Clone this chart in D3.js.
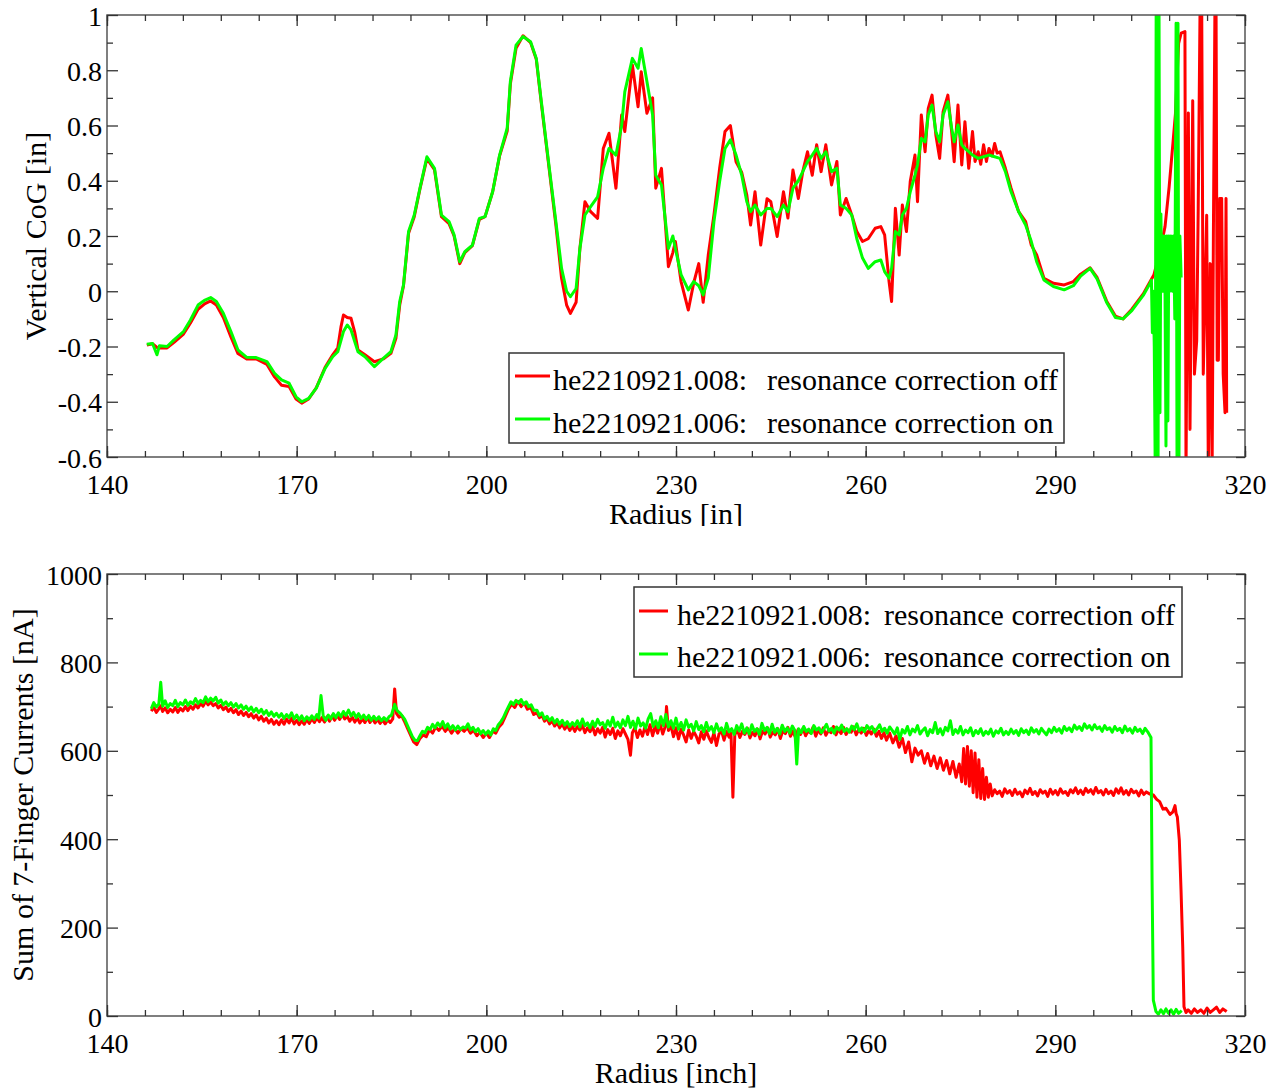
<!DOCTYPE html>
<html><head><meta charset="utf-8">
<script src="https://cdn.jsdelivr.net/npm/d3@7"></script>
<style>
html,body{margin:0;padding:0;background:#fff;}
svg text{font-family:"Liberation Serif","Times New Roman",serif !important;fill:#000;}
</style></head>
<body>
<svg id="c" width="1279" height="1088"></svg>
<script>
// ---------------- DATA ----------------
const xTicks = [140,170,200,230,260,290,320];
const cogTicks = [-0.6,-0.4,-0.2,0,0.2,0.4,0.6,0.8,1];
const curTicks = [0,200,400,600,800,1000];
const seriesNames = ["he2210921.008:", "he2210921.006:"];
const seriesNotes = ["resonance correction off", "resonance correction on"];

// Vertical CoG [in] vs radius, correction off (red)
const cogOff = [
[146.3,-0.195],[147.2,-0.19],[148.0,-0.205],[149.5,-0.205],[150.6,-0.185],[152.1,-0.155],[153.2,-0.115],
[154.4,-0.065],[155.5,-0.045],[156.4,-0.035],[157.3,-0.05],[158.4,-0.095],[159.6,-0.165],[160.7,-0.225],
[162.1,-0.245],[163.6,-0.245],[165.3,-0.265],[166.5,-0.31],[167.6,-0.34],[168.8,-0.345],[169.9,-0.39],
[170.8,-0.405],[171.9,-0.39],[173.1,-0.35],[174.5,-0.275],[175.7,-0.23],[176.5,-0.205],[177.0,-0.13],
[177.4,-0.086],[178.0,-0.095],[178.6,-0.098],[179.2,-0.15],[179.7,-0.213],[180.8,-0.23],[182.3,-0.255],
[183.7,-0.245],[184.9,-0.225],[185.7,-0.17],[186.3,-0.05],[186.9,0.02],[187.7,0.21],[188.6,0.27],
[189.5,0.37],[190.6,0.48],[191.8,0.44],[192.9,0.27],[194.1,0.245],[194.9,0.2],[195.8,0.1],[196.6,0.14],
[197.8,0.165],[198.9,0.26],[199.8,0.27],[201.0,0.36],[202.1,0.49],[203.3,0.58],[203.8,0.75],[204.7,0.88],
[205.8,0.925],[207.0,0.9],[207.9,0.84],[208.7,0.68],[209.9,0.45],[211.0,0.24],[211.9,0.047],[212.7,-0.05],
[213.3,-0.08],[214.2,-0.04],[214.8,0.155],[215.6,0.324],[216.5,0.288],[217.6,0.264],[218.5,0.517],
[219.4,0.572],[220.5,0.373],[221.4,0.638],[221.9,0.578],[223.1,0.819],[224.0,0.668],[224.5,0.795],
[225.4,0.644],[226.3,0.7],[226.8,0.373],[227.7,0.445],[228.8,0.089],[229.5,0.14],[229.9,0.18],
[230.8,0.035],[231.95,-0.068],[232.8,0.03],[233.6,0.1],[234.3,-0.04],[235.1,0.131],[236.0,0.276],
[236.9,0.445],[237.75,0.578],[238.6,0.6],[239.5,0.469],[240.4,0.43],[241.2,0.348],[241.8,0.24],
[242.5,0.36],[243.4,0.167],[244.4,0.335],[245.0,0.324],[246.0,0.198],[247.0,0.36],[247.7,0.265],
[248.5,0.439],[249.35,0.336],[250.05,0.433],[250.8,0.505],[251.55,0.42],[252.25,0.53],[252.95,0.433],
[253.7,0.53],[254.6,0.385],[255.45,0.47],[256.0,0.276],[256.9,0.336],[257.8,0.276],[258.6,0.216],
[259.5,0.18],[260.4,0.19],[261.5,0.228],[262.4,0.234],[263.0,0.204],[263.7,0.035],[264.1,-0.037],
[264.7,0.3],[265.3,0.131],[265.8,0.312],[266.45,0.216],[267.05,0.397],[267.8,0.493],[268.2,0.324],
[268.8,0.638],[269.4,0.505],[269.9,0.662],[270.5,0.71],[271.1,0.566],[271.7,0.481],[272.25,0.65],
[273.0,0.71],[273.6,0.578],[274.0,0.469],[274.6,0.674],[275.2,0.457],[275.7,0.614],[276.3,0.445],
[276.9,0.578],[277.3,0.47],[277.8,0.505],[278.2,0.46],[278.65,0.53],[279.1,0.47],[279.5,0.517],
[280.0,0.49],[280.4,0.535],[280.8,0.5],[281.25,0.505],[282.1,0.445],[283.0,0.373],[284.2,0.288],
[285.3,0.252],[286.2,0.167],[287.05,0.131],[288.2,0.047],[289.7,0.029],[291.4,0.023],[292.85,0.035],
[294.0,0.062],[295.5,0.085],[296.6,0.05],[298.1,-0.035],[299.5,-0.09],[300.7,-0.1],[302.1,-0.065],
[303.9,-0.01],[305.0,0.035],[305.6,0.06],[306.5,0.14],[307.35,0.234],[308.0,0.378],[308.6,0.535],
[309.0,0.643],[309.5,0.897],[309.9,0.934],[310.5,0.94],[310.67,-0.65],[311.04,0.645],[311.3,-0.5],
[311.73,0.69],[312.0,-0.3],[312.36,-0.18],[312.6,0.3],[312.9,1.05],[313.15,1.05],[313.4,-0.3],
[313.68,-0.01],[313.94,0.275],[314.2,-0.65],[314.5,0.1],[314.8,-0.65],[315.0,0.2],[315.25,1.05],
[315.42,1.05],[315.6,-0.25],[315.79,-0.25],[316.0,0.336],[316.31,0.336],[316.55,-0.3],[316.84,-0.44],
[317.0,0.336],[317.1,-0.44]
];

// Vertical CoG [in] vs radius, correction on (green)
const cogOn = [
[146.3,-0.192],[147.2,-0.189],[147.9,-0.23],[148.3,-0.197],[149.5,-0.2],[150.6,-0.176],[152.1,-0.146],
[153.2,-0.104],[154.4,-0.05],[155.5,-0.032],[156.4,-0.023],[157.3,-0.037],[158.4,-0.08],[159.6,-0.146],
[160.7,-0.212],[162.1,-0.239],[163.6,-0.24],[165.3,-0.255],[166.5,-0.297],[167.6,-0.321],[168.8,-0.333],
[169.9,-0.382],[170.8,-0.4],[171.9,-0.388],[173.1,-0.351],[174.5,-0.279],[175.7,-0.237],[176.5,-0.219],
[177.4,-0.146],[178.0,-0.122],[178.6,-0.14],[179.7,-0.219],[180.8,-0.237],[182.3,-0.273],[183.7,-0.243],
[184.9,-0.219],[185.7,-0.158],[186.3,-0.037],[186.9,0.023],[187.7,0.216],[188.6,0.276],[189.5,0.373],
[190.6,0.487],[191.8,0.445],[192.9,0.276],[194.1,0.252],[194.9,0.204],[195.8,0.107],[196.6,0.143],
[197.8,0.167],[198.9,0.264],[199.8,0.27],[201.0,0.36],[202.1,0.493],[203.3,0.59],[203.8,0.759],
[204.7,0.891],[205.8,0.922],[207.0,0.903],[207.9,0.843],[208.7,0.686],[209.9,0.457],[211.0,0.252],
[211.9,0.083],[212.7,0.0],[213.3,-0.02],[214.2,0.01],[214.8,0.155],[215.6,0.276],[216.5,0.306],
[217.6,0.342],[218.5,0.445],[219.4,0.517],[220.5,0.493],[221.4,0.6],[221.9,0.722],[223.1,0.843],
[224.0,0.807],[224.5,0.879],[225.4,0.759],[226.3,0.638],[226.8,0.42],[227.7,0.385],[228.8,0.155],
[229.5,0.2],[229.9,0.155],[230.8,0.06],[231.95,0.005],[232.8,0.035],[233.6,0.02],[234.3,-0.013],
[235.1,0.047],[236.0,0.252],[236.9,0.397],[237.75,0.517],[238.6,0.548],[239.5,0.493],[240.4,0.42],
[241.2,0.324],[241.8,0.288],[242.5,0.312],[243.4,0.276],[244.4,0.3],[245.0,0.3],[246.0,0.27],
[247.0,0.312],[247.7,0.288],[248.5,0.373],[249.35,0.4],[250.05,0.433],[250.8,0.469],[251.55,0.493],
[252.25,0.517],[252.95,0.481],[253.7,0.505],[254.6,0.433],[255.45,0.445],[256.0,0.312],[256.9,0.3],
[257.8,0.276],[258.6,0.19],[259.5,0.12],[260.4,0.083],[261.5,0.107],[262.4,0.113],[263.0,0.071],
[263.7,0.047],[264.1,0.083],[264.7,0.216],[265.3,0.204],[265.8,0.276],[266.45,0.3],[267.05,0.36],
[267.8,0.42],[268.2,0.457],[268.8,0.553],[269.4,0.541],[269.9,0.638],[270.5,0.674],[271.1,0.578],
[271.7,0.541],[272.25,0.638],[273.0,0.686],[273.6,0.59],[274.0,0.541],[274.6,0.602],[275.2,0.53],
[275.7,0.517],[276.3,0.505],[276.9,0.493],[277.8,0.481],[278.65,0.487],[279.5,0.493],[280.4,0.487],
[281.25,0.481],[282.1,0.433],[283.0,0.36],[284.2,0.288],[285.3,0.24],[286.2,0.18],[287.05,0.107],
[288.2,0.041],[289.7,0.017],[291.4,0.005],[292.85,0.02],[294.0,0.055],[295.5,0.083],[296.6,0.045],
[298.1,-0.04],[299.5,-0.095],[300.7,-0.1],[302.1,-0.07],[303.9,-0.015],[305.0,0.03],[305.2,0.04],
[305.35,-0.15],[305.5,0.0],[305.65,-0.2],[305.8,-0.65],[305.95,1.05],[306.1,0.28],[306.25,-0.65],
[306.4,1.05],[306.55,-0.44],[306.7,0.28],[306.85,0.0],[307.0,0.2],[307.15,0.0],[307.3,0.2],
[307.5,-0.56],[307.65,0.2],[307.8,-0.47],[307.95,0.2],[308.1,0.0],[308.3,0.2],[308.5,0.0],
[308.7,0.2],[308.9,-0.1],[309.1,0.97],[309.25,-0.65],[309.4,0.97],[309.55,-0.65],[309.7,0.2],[309.9,0.05]
];

// Sum of 7-finger currents [nA], correction off (red)
const curOff = [
[147,690],[147.4,698],[147.8,687],[148.2,695],[148.5,702],[148.8,689],[149.2,697],[149.6,686],[150.0,694],
[150.4,688],[150.8,698],[151.2,687],[151.6,696],[152.0,690],[152.4,700],[152.8,691],[153.2,701],[153.6,694],
[154.0,704],[154.4,697],[154.8,707],[155.2,701],[155.6,712],[156.0,704],[156.4,710],[156.8,702],[157.2,707],
[157.6,697],[158.0,703],[158.4,693],[158.8,699],[159.2,689],[159.6,696],[160.0,686],[160.4,693],[160.8,682],
[161.2,690],[161.6,680],[162.0,687],[162.4,677],[162.8,684],[163.2,674],[163.6,681],[164.0,670],[164.4,678],
[164.8,667],[165.2,674],[165.6,663],[166.0,671],[166.4,660],[166.8,668],[167.2,659],[167.6,670],[168.0,660],
[168.4,672],[168.8,663],[169.2,674],[169.6,661],[170.0,669],[170.4,659],[170.8,668],[171.2,660],[171.6,671],
[172.0,662],[172.4,673],[172.8,664],[173.2,675],[173.6,666],[174.0,675],[174.4,665],[174.8,677],[175.2,667],
[175.6,679],[176.0,669],[176.4,680],[176.8,671],[177.2,682],[177.6,672],[178.0,678],[178.4,667],[178.8,676],
[179.2,665],[179.6,674],[180.0,663],[180.4,672],[180.8,664],[181.2,675],[181.6,664],[182.0,673],[182.4,663],
[182.8,671],[183.2,662],[183.6,670],[184.0,661],[184.4,670],[184.8,664],[185.2,672],[185.5,740],[185.8,684],
[186.2,676],[186.6,680],[187.0,668],[187.5,652],[188.0,636],[188.5,620],[189.0,614],[189.5,628],[190.0,636],
[190.5,632],[191.0,648],[191.5,640],[192.0,654],[192.5,646],[193.0,656],[193.5,644],[194.0,652],[194.5,640],
[195.0,650],[195.5,640],[196.0,650],[196.5,644],[197.0,652],[197.5,640],[198.0,646],[198.5,634],[199.0,642],
[199.5,630],[200.0,640],[200.5,630],[201.0,644],[201.5,640],[202.0,654],[202.5,662],[203.0,678],[203.5,694],
[204.0,706],[204.5,698],[205.0,712],[205.5,700],[206.0,708],[206.5,694],[207.0,698],[207.5,682],
[208,686],[208.4,675],[208.8,680],[209.2,667],[209.6,673],[210.0,661],[210.4,668],[210.8,656],[211.2,664],
[211.6,652],[212.0,661],[212.4,649],[212.8,658],[213.2,646],[213.6,656],[214.0,644],[214.4,655],[214.8,647],
[215.2,658],[215.6,641],[216.0,652],[216.4,643],[216.8,655],[217.2,636],[217.6,650],[218.0,640],[218.4,653],
[218.8,631],[219.2,648],[219.6,637],[220.0,651],[220.4,628],[220.8,645],[221.2,634],[221.6,650],[222.0,638],
[222.4,626],[222.8,590],[223.1,641],[223.5,652],[223.9,630],[224.3,647],[224.7,633],[225.1,655],[225.5,637],
[225.9,659],[226.3,634],[226.7,656],[227.1,640],[227.5,661],[227.9,638],[228.3,655],[228.5,700],[228.8,646],
[229.2,657],[229.6,632],[230.0,652],[230.4,627],[230.8,649],[231.2,636],[231.6,620],[232.0,647],[232.4,628],
[232.8,644],[233.2,633],[233.6,618],[234.0,643],[234.4,626],[234.8,645],[235.2,630],[235.6,619],[236.0,641],
[236.4,612],[236.8,638],[237.2,645],[237.6,624],[238.0,644],[238.4,631],[238.7,640],[239.0,495],
[239.3,636],[239.7,648],[240.1,630],[240.5,644],[240.9,637],[241.3,651],[241.7,629],[242.1,642],[242.5,634],
[242.9,649],[243.3,627],[243.7,645],[244.1,638],[244.5,652],[244.9,631],[245.3,643],[245.7,636],[246.1,650],
[246.5,628],[246.9,646],[247.3,639],[247.7,653],[248.1,633],[248.5,644],[248.9,630],[249.3,648],[249.7,637],
[250.1,651],[250.5,634],[250.9,645],[251.3,640],[251.7,654],[252.1,633],[252.5,647],[252.9,638],[253.3,652],
[253.7,635],[254.1,646],[254.5,641],[254.9,655],[255.3,636],[255.7,649],[256.1,639],[256.5,653],[256.9,637],
[257.3,647],[257.7,642],[258.1,654],[258.5,636],[258.9,648],[259.3,640],[259.7,651],[260.1,635],[260.5,646],
[260.9,638],[261.3,649],[261.7,633],[262.1,644],[262.5,628],[262.9,641],
[263.3,624],[263.8,640],[264.3,618],[264.8,634],[265.3,608],[265.8,628],[266.3,596],[266.8,620],[267.3,575],
[267.8,606],[268.3,590],[268.8,600],[269.3,572],[269.8,594],[270.3,566],[270.8,588],[271.3,560],[271.8,584],
[272.3,556],[272.8,578],[273.3,548],[273.8,576],[274.3,540],[274.8,570],[275.2,530],[275.5,605],[275.8,525],
[276.1,610],[276.4,520],[276.7,600],[277.0,505],[277.3,595],[277.6,495],[277.9,580],[278.2,492],[278.5,560],
[278.8,490],[279.1,540],[279.4,495],[279.7,525],
[280.0,498],[280.4,512],[280.8,503],[281.2,509],[281.6,497],[282.0,514],[282.4,504],[282.8,510],[283.2,499],
[283.6,513],[284.0,502],[284.4,507],[284.8,496],[285.2,511],[285.6,503],[286.0,515],[286.4,501],[286.8,508],
[287.2,498],[287.6,512],[288.0,504],[288.4,509],[288.8,497],[289.2,513],[289.6,502],[290.0,510],[290.4,500],
[290.8,514],[291.2,504],[291.6,508],[292.0,499],[292.4,512],[292.8,505],[293.2,516],[293.6,503],[294.0,511],
[294.4,501],[294.8,515],[295.2,506],[295.6,512],[296.0,502],[296.4,517],[296.8,505],[297.2,510],[297.6,500],
[298.0,513],[298.4,503],[298.8,509],[299.2,499],[299.6,514],[300.0,504],[300.4,516],[300.8,502],[301.2,510],
[301.6,500],[302.0,513],[302.4,505],[302.8,509],[303.2,498],[303.6,511],[304.0,501],[304.4,507],[304.97,502],
[305.5,500],[306.03,490],[306.5,485],[307.03,468],[307.5,470],[308.14,456],[308.6,462],[308.93,476],[309.1,458],
[309.3,450],[309.61,398],[309.88,285],[310.15,157],[310.35,21],[310.67,8],[311,14],[311.5,6],[312,16],[312.5,8],
[313,14],[313.5,6],[314,18],[314.5,8],[315,14],[315.5,20],[316,8],[316.5,16],[317.1,10]
];

// Sum of 7-finger currents [nA], correction on (green)
const curOn = [
[147,695],[147.4,709],[147.8,699],[148.2,706],[148.5,755],[148.8,701],[149.2,713],[149.6,698],[150.0,707],
[150.4,702],[150.8,714],[151.2,700],[151.6,709],[152.0,704],[152.4,715],[152.8,703],[153.2,711],[153.6,706],
[154.0,718],[154.4,707],[154.8,714],[155.2,709],[155.6,722],[156.0,711],[156.4,719],[156.8,713],[157.2,721],
[157.6,708],[158.0,715],[158.4,704],[158.8,711],[159.2,702],[159.6,709],[160.0,699],[160.4,707],[160.8,697],
[161.2,704],[161.6,694],[162.0,701],[162.4,691],[162.8,699],[163.2,688],[163.6,696],[164.0,686],[164.4,694],
[164.8,683],[165.2,691],[165.6,680],[166.0,688],[166.4,678],[166.8,685],[167.2,676],[167.6,684],[168.0,673],
[168.4,682],[168.8,675],[169.2,686],[169.6,672],[170.0,681],[170.4,670],[170.8,679],[171.2,668],[171.6,677],
[172.0,670],[172.4,679],[172.8,671],[173.2,682],[173.5,674],[173.85,725],[174.2,679],[174.6,669],[175.0,681],
[175.4,672],[175.8,684],[176.2,675],[176.6,686],[177.0,677],[177.4,689],[177.8,680],[178.2,692],[178.6,679],
[179.0,687],[179.4,675],[179.8,684],[180.2,673],[180.6,681],[181.0,671],[181.4,680],[181.8,669],[182.2,678],
[182.6,670],[183.0,677],[183.4,668],[183.8,675],[184.2,669],[184.6,677],[185.0,681],[185.5,705],[185.9,691],
[186.3,686],[186.7,679],[187.1,671],[187.5,658],[187.9,645],[188.3,632],[188.7,624],[189.1,623],[189.5,634],
[189.9,644],[190.3,641],[190.7,653],[191.1,648],[191.5,660],[191.9,652],[192.3,663],[192.7,655],[193.1,666],
[193.5,652],[193.9,661],[194.3,649],[194.7,657],[195.1,647],[195.5,656],[195.9,648],[196.3,654],[196.7,651],
[197.1,661],[197.5,647],[197.9,653],[198.3,643],[198.7,650],[199.1,639],[199.5,646],[199.9,637],[200.3,645],
[200.7,636],[201.1,650],[201.5,646],[201.9,659],[202.3,666],[202.7,675],[203.1,688],[203.5,700],[203.9,711],
[204.3,705],[204.7,714],[205.1,708],[205.5,716],[205.9,705],[206.3,711],[206.7,700],[207.1,704],[207.5,692],
[208,692],[208.4,680],[208.8,686],[209.2,672],[209.6,678],[210.0,668],[210.4,675],[210.8,663],[211.2,671],
[211.6,660],[212.0,669],[212.4,658],[212.8,666],[213.2,655],[213.6,664],[214.0,657],[214.4,668],[214.8,654],
[215.2,672],[215.6,657],[216.0,663],[216.4,652],[216.8,667],[217.2,655],[217.6,671],[218.0,659],[218.4,664],
[218.8,651],[219.2,668],[219.6,656],[220.0,676],[220.4,654],[220.8,665],[221.2,652],[221.6,670],[222.0,657],
[222.4,678],[222.8,653],[223.2,667],[223.6,650],[224.0,674],[224.4,656],[224.8,663],[225.2,651],[225.6,672],
[226.0,684],[226.4,655],[226.8,668],[227.2,652],[227.6,677],[228.0,657],[228.4,682],[228.8,654],[229.2,668],
[229.6,651],[230.0,674],[230.4,649],[230.8,664],[231.2,647],[231.6,670],[232.0,653],[232.4,660],[232.8,645],
[233.2,666],[233.6,648],[234.0,657],[234.4,643],[234.8,664],[235.2,646],[235.6,655],[236.0,641],[236.4,661],
[236.8,645],[237.2,652],[237.6,638],[238.0,662],[238.4,643],[238.8,650],[239.2,637],[239.6,657],[240.0,645],
[240.4,661],[240.8,640],[241.2,652],[241.6,638],[242.0,659],[242.4,644],[242.8,650],[243.2,637],[243.6,662],
[244.0,646],[244.4,653],[244.8,639],[245.2,660],[245.6,642],[246.0,651],[246.4,638],[246.8,658],[247.2,644],
[247.6,652],[248.0,640],[248.4,656],[248.8,646],[249.1,570],
[249.4,650],[249.8,641],[250.2,655],[250.6,644],[251.0,649],[251.4,639],[251.8,657],[252.2,647],[252.6,652],
[253.0,641],[253.4,650],[253.8,660],[254.2,645],[254.6,651],[255.0,640],[255.4,654],[255.8,647],[256.2,658],
[256.6,644],[257.0,650],[257.4,642],[257.8,656],[258.2,648],[258.6,661],[259.0,645],[259.4,652],[259.8,643],
[260.2,657],[260.6,649],[261.0,655],[261.4,642],[261.8,650],[262.2,659],[262.6,644],[263.0,651],[263.4,640],
[263.8,654],[264.2,646],[264.6,638],[265.0,652],[265.4,626],[265.8,648],[266.2,640],[266.6,655],[267.0,636],
[267.4,649],[267.8,643],[268.2,657],[268.6,638],[269.0,646],[269.4,652],[269.8,634],[270.2,648],[270.6,641],
[271.0,664],[271.4,639],[271.8,650],[272.2,636],[272.6,653],[273.0,645],[273.4,668],[273.8,637],[274.2,648],
[274.6,640],[275.0,655],[275.4,636],[275.8,647],[276.2,641],[276.6,652],[277.0,634],[277.4,646],[277.8,639],
[278.2,650],[278.6,635],[279.0,644],[279.4,638],[279.8,649],[280.2,633],[280.6,645],[281.0,640],[281.4,651],
[281.8,636],[282.2,644],[282.6,637],[283.0,649],[283.4,639],[283.8,646],[284.2,635],[284.6,650],[285.0,641],
[285.4,647],[285.8,637],[286.2,652],[286.6,642],[287.0,648],[287.4,638],[287.8,651],[288.2,643],[288.6,636],
[289.0,649],[289.4,641],[289.8,653],[290.2,644],[290.6,650],[291.0,640],[291.4,655],[291.8,646],[292.2,652],
[292.6,643],[293.0,658],[293.4,649],[293.8,655],[294.2,646],[294.6,661],[295.0,651],[295.4,657],[295.8,647],
[296.2,659],[296.6,650],[297.0,654],[297.4,644],[297.8,657],[298.2,648],[298.6,652],[299.0,642],[299.4,655],
[299.8,646],[300.2,651],[300.6,641],[301.0,656],[301.4,645],[301.8,650],[302.2,640],[302.6,653],[303.0,644],
[303.4,649],[303.8,639],[304.2,651],[304.7,641],
[305.13,630],[305.3,308],[305.5,36],[305.92,10],[306.3,4],[306.7,14],[307.1,5],[307.5,16],[307.9,6],
[308.3,14],[308.7,4],[309.1,15],[309.5,6],[309.99,12]
];

// ---------------- DRAW ----------------
const svg = d3.select("#c");
const colors = ["#ff0000", "#00ff00"];
const FONT = "'Liberation Serif','Times New Roman',serif";
const L = 107, R = 1245;
const hyphenFmt = d => (d < 0 ? "-" : "") + String(Math.abs(+d.toFixed(1)));
const panels = [
  {top:15, bottom:457, domain:[-0.6,1], ticks:cogTicks, minorStep:0.1, data:[cogOff,cogOn],
   ylabel:"Vertical CoG [in]", ylabX:35, xlabel:"Radius [in]", xlabY:524, clipBottom:526,
   fmt:hyphenFmt,
   legend:{x:509,y:353,w:555,h:90,line:[515,550],txt:553,txt2:767,rows:[376,419],base:[390,433]}},
  {top:574, bottom:1016, domain:[0,1000], ticks:curTicks, minorStep:100, data:[curOff,curOn],
   ylabel:"Sum of 7-Finger Currents [nA]", ylabX:22, xlabel:"Radius [inch]", xlabY:1083, clipBottom:1088,
   fmt:d=>String(d),
   legend:{x:634,y:587,w:548,h:90,line:[639,668],txt:677,txt2:884,rows:[611,654],base:[625,667]}}
];
const x = d3.scaleLinear().domain([140,320]).range([L,R]);
const xMinor = d3.range(140,320.01,6).filter(v=>v%30!==0);

panels.forEach((p,i)=>{
  const y = d3.scaleLinear().domain(p.domain).range([p.bottom,p.top]);
  const yMinor = d3.range(p.domain[0], p.domain[1]+1e-9, p.minorStep)
     .filter(v=>!p.ticks.some(t=>Math.abs(t-v)<1e-6));
  const g = svg.append("g");
  const cid = "clip"+i;
  svg.append("clipPath").attr("id",cid).append("rect")
     .attr("x",L).attr("y",p.top).attr("width",R-L).attr("height",p.bottom-p.top);

  // lines
  const line = d3.line().x(d=>x(d[0])).y(d=>y(d[1]));
  const lg = g.append("g").attr("clip-path",`url(#${cid})`);
  p.data.forEach((ser,k)=>{
    lg.append("path").datum(ser).attr("d",line).attr("fill","none")
      .attr("stroke",colors[k]).attr("stroke-width",3).attr("stroke-linejoin","round");
  });

  // frame
  g.append("rect").attr("x",L).attr("y",p.top).attr("width",R-L).attr("height",p.bottom-p.top)
    .attr("fill","none").attr("stroke","#555").attr("stroke-width",1.5);

  const styleAxis = sel => {
    sel.attr("font-family",null).attr("font-size",null);
    sel.select(".domain").remove();
    sel.selectAll(".tick line").attr("stroke","#333").attr("stroke-width",1.3);
    sel.selectAll("text").style("font-family",FONT).style("font-size","28px");
  };
  // bottom axis with labels
  g.append("g").attr("transform",`translate(0,${p.bottom})`)
    .call(d3.axisBottom(x).tickValues(xTicks).tickSize(-11).tickPadding(17).tickFormat(d3.format("d")))
    .call(styleAxis);
  g.append("g").attr("transform",`translate(0,${p.bottom})`)
    .call(d3.axisBottom(x).tickValues(xMinor).tickSize(-6).tickFormat(""))
    .call(styleAxis);
  g.append("g").attr("transform",`translate(0,${p.top})`)
    .call(d3.axisTop(x).tickValues(xTicks).tickSize(-11).tickFormat(""))
    .call(styleAxis);
  g.append("g").attr("transform",`translate(0,${p.top})`)
    .call(d3.axisTop(x).tickValues(xMinor).tickSize(-6).tickFormat(""))
    .call(styleAxis);
  // left axis
  g.append("g").attr("transform",`translate(${L},0)`)
    .call(d3.axisLeft(y).tickValues(p.ticks).tickSize(-11).tickPadding(5).tickFormat(p.fmt))
    .call(styleAxis)
    .call(s=>s.selectAll("text").attr("dy","0.36em"));
  g.append("g").attr("transform",`translate(${L},0)`)
    .call(d3.axisLeft(y).tickValues(yMinor).tickSize(-6).tickFormat(""))
    .call(styleAxis);
  g.append("g").attr("transform",`translate(${R},0)`)
    .call(d3.axisRight(y).tickValues(p.ticks).tickSize(-9).tickFormat(""))
    .call(styleAxis);
  g.append("g").attr("transform",`translate(${R},0)`)
    .call(d3.axisRight(y).tickValues(yMinor).tickSize(-8).tickFormat(""))
    .call(styleAxis);

  // axis titles
  const tcid = "tclip"+i;
  svg.append("clipPath").attr("id",tcid).append("rect")
     .attr("x",0).attr("y",0).attr("width",1279).attr("height",p.clipBottom);
  g.append("text").attr("clip-path",`url(#${tcid})`).attr("x",(L+R)/2).attr("y",p.xlabY)
    .attr("text-anchor","middle").style("font-size","30px").text(p.xlabel);
  g.append("text").attr("transform",`translate(${p.ylabX},${(p.top+p.bottom)/2}) rotate(-90)`)
    .attr("text-anchor","middle").attr("dy","0.35em").style("font-size","30px").text(p.ylabel);

  // legend
  const lgd = p.legend;
  const leg = g.append("g");
  leg.append("rect").attr("x",lgd.x).attr("y",lgd.y).attr("width",lgd.w).attr("height",lgd.h)
    .attr("fill","#fff").attr("stroke","#333").attr("stroke-width",1.5);
  seriesNames.forEach((nm,k)=>{
    leg.append("line").attr("x1",lgd.line[0]).attr("x2",lgd.line[1])
      .attr("y1",lgd.rows[k]).attr("y2",lgd.rows[k]).attr("stroke",colors[k]).attr("stroke-width",3);
    leg.append("text").attr("x",lgd.txt).attr("y",lgd.base[k]).style("font-size","30px").text(nm);
    leg.append("text").attr("x",lgd.txt2).attr("y",lgd.base[k]).style("font-size","30px").text(seriesNotes[k]);
  });
});
</script>
</body></html>
